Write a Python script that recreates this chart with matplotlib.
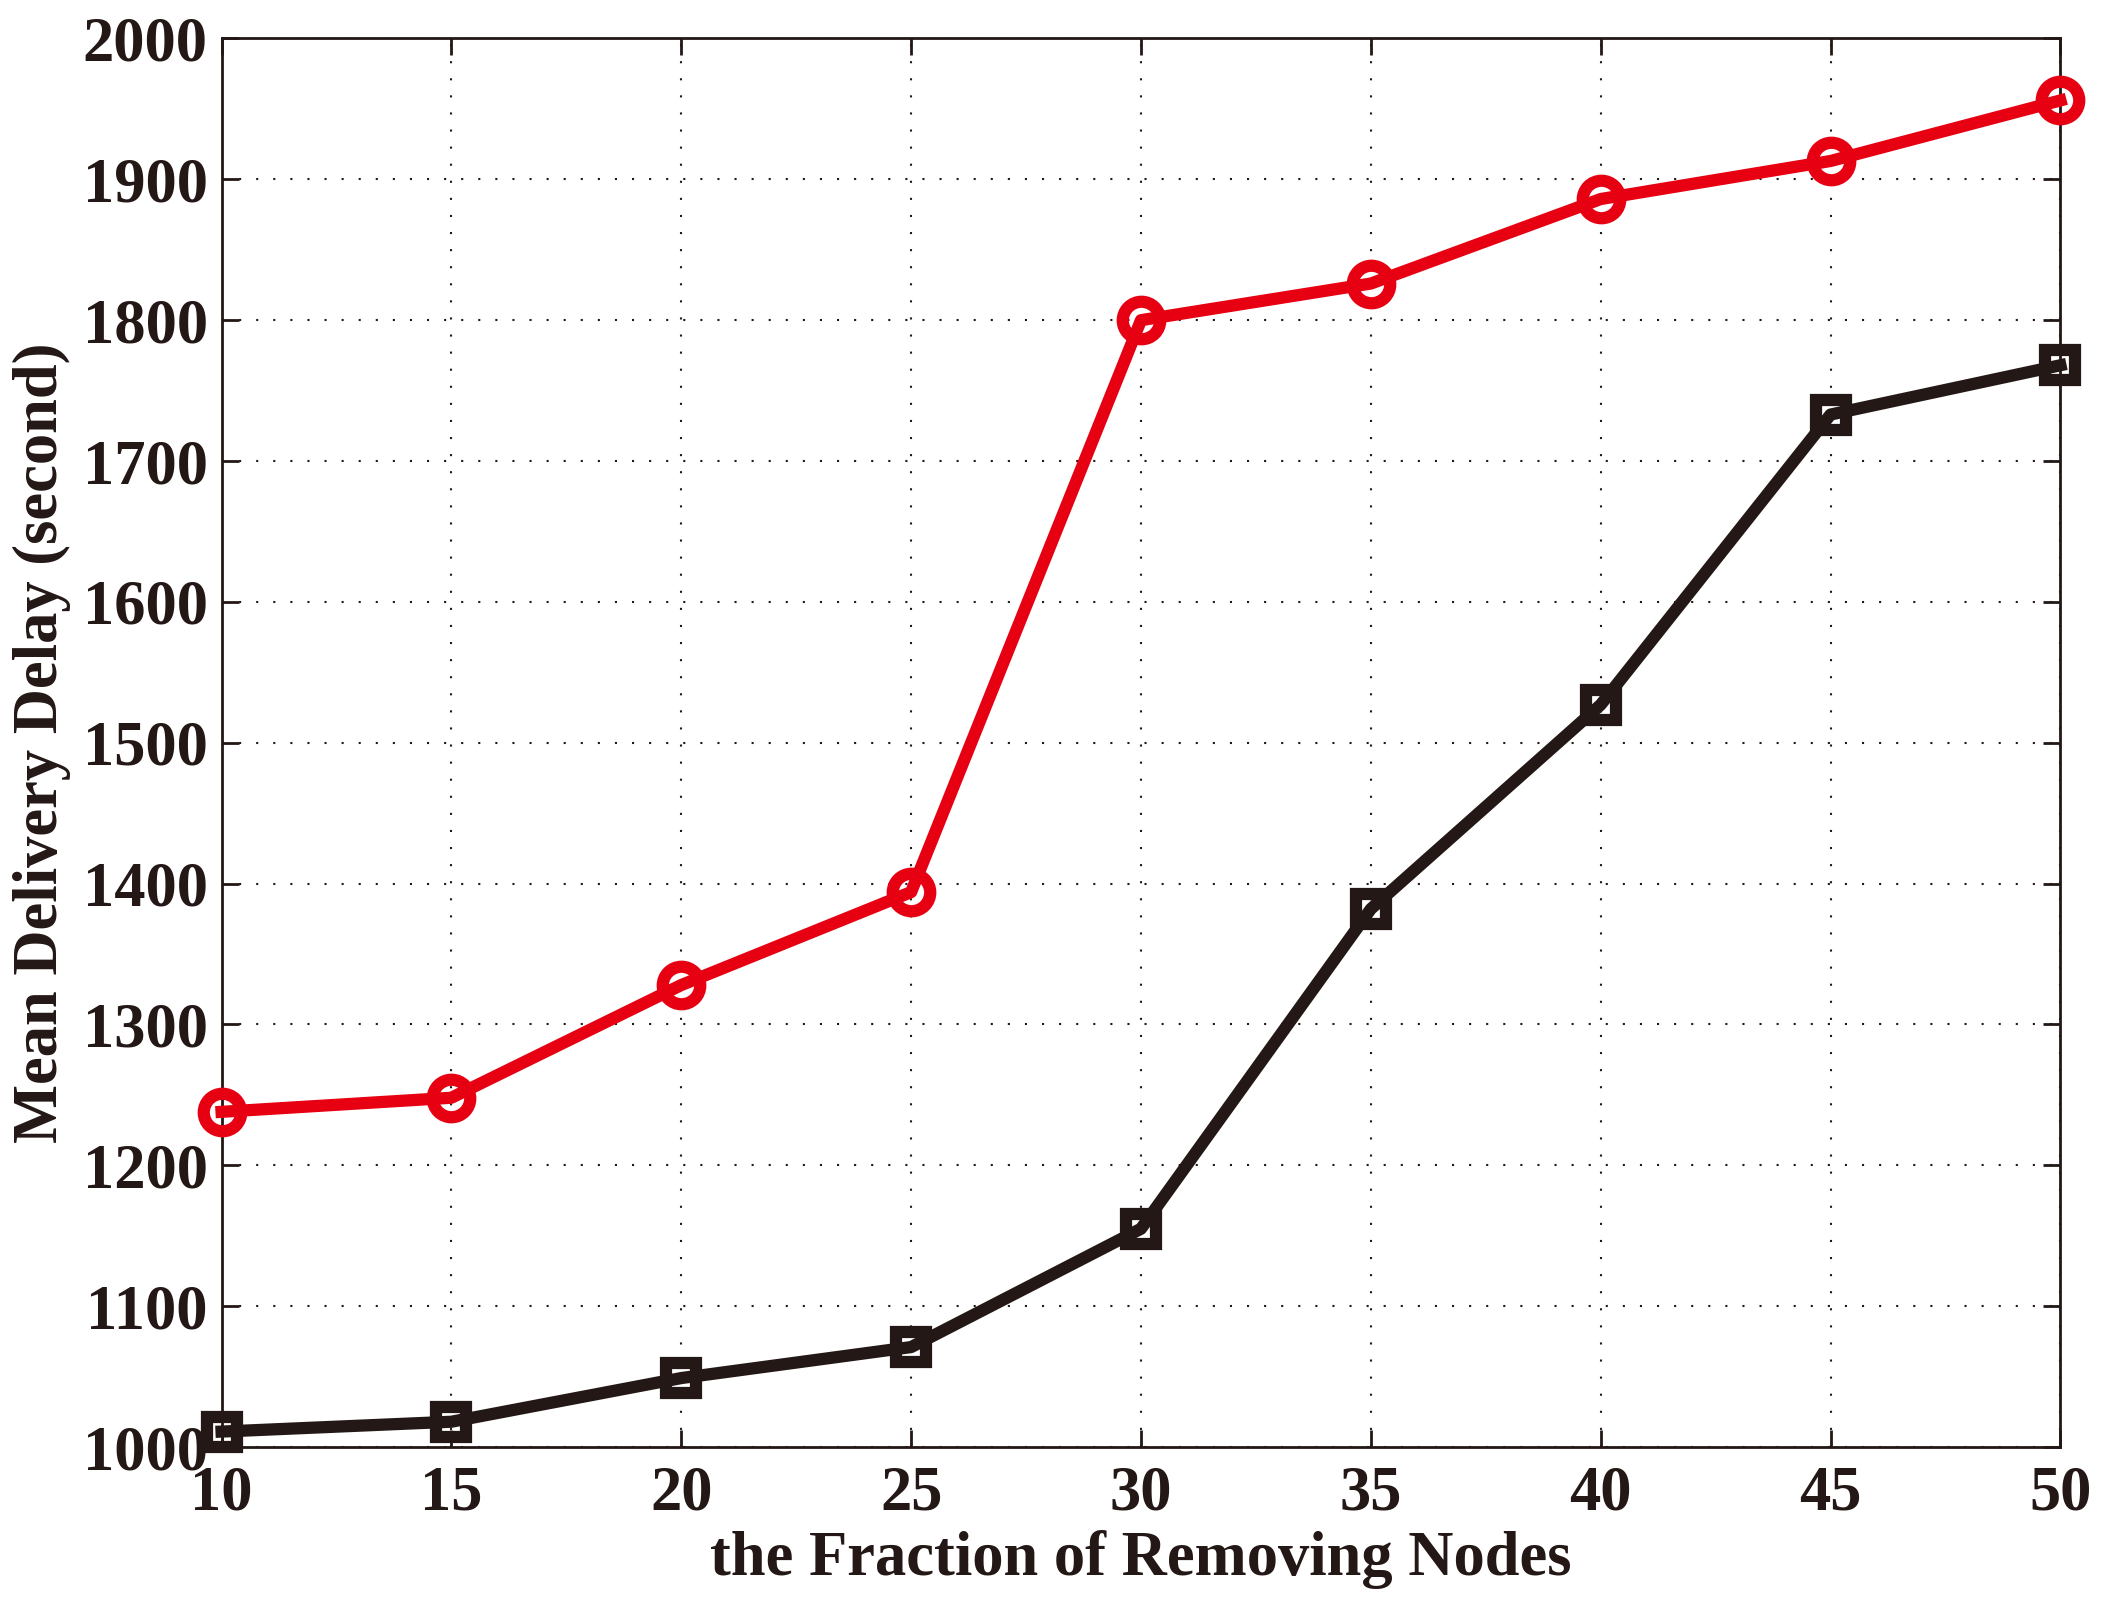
import numpy as np
import matplotlib
matplotlib.use('Agg')
import matplotlib.pyplot as plt

# fraction of removed nodes (%)
fractions = [10, 15, 20, 25, 30, 35, 40, 45, 50]
# mean delivery delay (s)
delay_red = [1238, 1248, 1328, 1394, 1800, 1826, 1886, 1913, 1956]
delay_black = [1011, 1018, 1049, 1071, 1155, 1382, 1527, 1733, 1768]

xticks = [10, 15, 20, 25, 30, 35, 40, 45, 50]
yticks = list(range(1000, 2001, 100))

plt.rcParams['font.family'] = ['Liberation Serif', 'DejaVu Serif']
plt.rcParams['font.weight'] = 'bold'

red = '#e60012'
black = '#231815'

fig = plt.figure(figsize=(21.1, 16.02), dpi=100)
ax = fig.add_axes([0.1050, 0.0967, 0.8715, 0.8793])

ax.plot(fractions, delay_red, color=red, lw=8.8, marker='o', ms=27,
        mfc='none', mec=red, mew=8.8, clip_on=False, zorder=3)
ax.plot(fractions, delay_black, color=black, lw=8.8, marker='s', ms=22,
        mfc='none', mec=black, mew=8.8, clip_on=False, zorder=3)

ax.set_xlim(10, 50)
ax.set_ylim(1000, 2000)
ax.set_xticks(xticks)
ax.set_yticks(yticks)
ax.tick_params(direction='in', length=12, width=2, labelsize=45,
               top=True, right=True, colors=black)
ax.tick_params(axis='x', pad=13)
ax.tick_params(axis='y', pad=10)
for lbl in ax.get_xticklabels() + ax.get_yticklabels():
    lbl.set_fontweight('bold')
for sp in ax.spines.values():
    sp.set_linewidth(2)
    sp.set_color(black)

ax.grid(True, linestyle=(0, (1, 7.2)), color=black, linewidth=1.5)

ax.set_xlabel('the Fraction of Removing Nodes', fontsize=45,
              fontweight='bold', color=black, labelpad=5)
ax.set_ylabel('Mean Delivery Delay (second)', fontsize=45,
              fontweight='bold', color=black, labelpad=8)

fig.savefig('out.png', dpi=100)
